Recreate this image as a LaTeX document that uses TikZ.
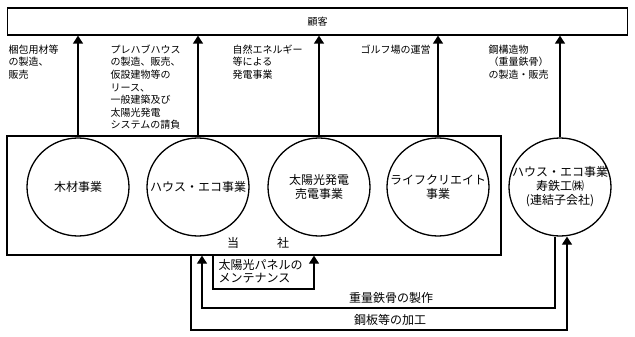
\documentclass[tikz,border=0pt]{standalone}
\usepackage{fontspec}
\setmainfont{Noto Sans CJK JP}
\usetikzlibrary{arrows.meta,shapes.geometric}
\tikzset{
  ya/.style={-{Triangle[length=8pt,width=10pt]}},
  jigyo/.style={draw,ellipse,minimum width=102pt,minimum height=98pt,inner sep=0pt},
  naka/.style={align=center,inner sep=0pt,font=\fontsize{12}{14}\selectfont},
  setsumei/.style={anchor=north west,align=left,inner sep=0pt,font=\fontsize{10}{12.6}\selectfont},
  shita/.style={align=left,inner sep=0pt,font=\fontsize{12}{12.5}\selectfont}
}
\begin{document}
\begin{tikzpicture}[x=1pt,y=-1pt,line width=1.3pt]
  \useasboundingbox (0,0) rectangle (635,337);
  % customers
  \node[draw,minimum width=620pt,minimum height=27pt,font=\fontsize{10}{12}\selectfont] (kokyaku) at (317.5,21.5) {顧客};
  % the company
  \node[draw,minimum width=494pt,minimum height=119pt] (tosha) at (254,195.5) {};
  \node[font=\fontsize{12}{14}\selectfont,inner sep=0pt] at (258,243) {当\hspace{38pt}社};
  % business segments
  \node[jigyo] (mokuzai) at (78,187) {};
  \node[naka] at (mokuzai) {木材事業};
  \node[jigyo] (house) at (198,187) {};
  \node[naka] at (house) {ハウス・エコ事業};
  \node[jigyo] (taiyo) at (319,187) {};
  \node[naka] at (taiyo) {太陽光発電\\売電事業};
  \node[jigyo] (life) at (438,187) {};
  \node[naka] at (life) {ライフクリエイト\\事業};
  \node[jigyo] (kotobuki) at (560,187) {};
  \node[naka] at (kotobuki) {ハウス・エコ事業\\寿鉄工㈱\\(連結子会社)};
  % arrows to customers
  \foreach \n in {mokuzai,house,taiyo,life,kotobuki}
    \draw[ya] (\n.north) -- (\n.north |- kokyaku.south);
  % what each segment does
  \node[setsumei] at (8,44) {梱包用材等\\の製造、\\販売};
  \node[setsumei] at (110,44) {プレハブハウス\\の製造、販売、\\仮設建物等の\\リース、\\一般建築及び\\太陽光発電\\システムの請負};
  \node[setsumei] at (232,44) {自然エネルギー\\等による\\発電事業};
  \node[setsumei] at (360,44) {ゴルフ場の運営};
  \node[setsumei] at (488,44) {鋼構造物\\（重量鉄骨）\\の製造・販売};
  % trade between the company and its subsidiary
  \coordinate (maint) at (213,289);
  \coordinate (maint2) at (314,289);
  \draw[ya] (maint |- tosha.south) |- (maint2) -- (maint2 |- tosha.south);
  \node[shita,anchor=north west] at (218,259) {太陽光パネルの\\メンテナンス};
  \coordinate (juryo) at (202,308);
  \draw[ya] ([xshift=-5pt]kotobuki.south) |- (juryo) -- (juryo |- tosha.south);
  \node[shita] at (391,298) {重量鉄骨の製作};
  \coordinate (kohan) at (191,330);
  \draw[ya] (kohan |- tosha.south) -- (kohan) -| ([xshift=7pt]kotobuki.south);
  \node[shita] at (390,320) {鋼板等の加工};
\end{tikzpicture}
\end{document}
